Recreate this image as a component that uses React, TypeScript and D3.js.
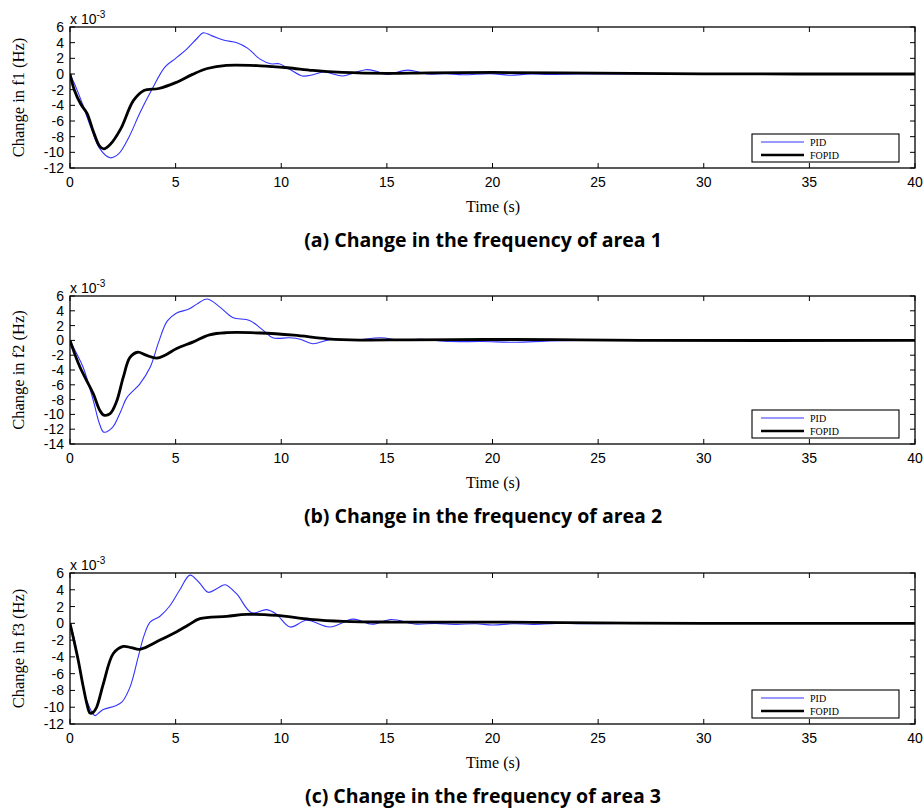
import React from "react";
import * as d3 from "d3";

type Pt = [number, number];

const xTicks = [0, 5, 10, 15, 20, 25, 30, 35, 40];
const legendLabels = ["PID", "FOPID"];

const pidArea1: Pt[] = [[0,0],[0.3,-1.8],[0.6,-3.9],[1.0,-6.9],[1.4,-9.5],[1.9,-10.7],[2.3,-10.2],[2.8,-8.0],[3.3,-5.0],[3.87,-2.0],[4.5,0.9],[5.0,2.0],[5.5,3.1],[6.0,4.5],[6.3,5.25],[6.7,4.9],[7.3,4.3],[7.9,4.0],[8.4,3.3],[9.0,1.9],[9.5,1.3],[9.9,1.3],[10.4,0.6],[11.0,-0.25],[11.5,-0.1],[12.0,0.25],[12.9,-0.25],[13.4,0.1],[14.0,0.55],[14.5,0.35],[15.0,-0.05],[16.0,0.5],[16.9,0.0],[17.8,0.05],[18.6,-0.1],[19.9,0.05],[20.8,-0.15],[21.8,0.0],[22.7,-0.05],[24,0.02],[25,0],[30,0],[40,0]];
const fopidArea1: Pt[] = [[0,0],[0.2,-2.0],[0.5,-3.8],[0.8,-5.0],[1.1,-7.3],[1.4,-9.2],[1.6,-9.55],[1.9,-9.0],[2.4,-7.0],[3.0,-3.4],[3.5,-2.1],[4.2,-1.85],[5.0,-1.1],[5.8,-0.05],[6.5,0.7],[7.4,1.1],[9.0,1.05],[10.3,0.8],[11.5,0.45],[12.9,0.2],[15,0.08],[17,0.15],[20,0.2],[25,0.1],[30,0.02],[40,0]];

const pidArea2: Pt[] = [[0,0],[0.3,-1.7],[0.63,-3.7],[1.1,-8.1],[1.4,-11.3],[1.6,-12.4],[2.0,-11.8],[2.4,-9.6],[2.7,-7.7],[3.3,-5.9],[3.8,-3.6],[4.2,-0.2],[4.6,2.6],[5.05,3.7],[5.6,4.2],[6.0,4.9],[6.5,5.6],[7.1,4.5],[7.7,3.1],[8.5,2.7],[9.15,1.35],[9.6,0.35],[10.4,0.35],[10.9,0.15],[11.5,-0.45],[12.3,0.1],[13.4,0.0],[14.7,0.35],[15.6,0.05],[16.6,0.15],[18,-0.15],[19.5,-0.15],[21.1,-0.25],[22.5,-0.1],[24,0],[40,0]];
const fopidArea2: Pt[] = [[0,0],[0.47,-3.6],[1.1,-7.2],[1.4,-9.4],[1.6,-10.1],[1.9,-9.9],[2.2,-8.3],[2.52,-5.0],[2.84,-2.3],[3.2,-1.6],[3.6,-2.0],[4.1,-2.4],[4.5,-2.0],[5.05,-1.1],[5.84,-0.2],[6.6,0.75],[7.4,1.04],[9.0,1.0],[10.6,0.7],[12.2,0.22],[13.7,0.05],[16,0.08],[19.6,0.12],[23,0.1],[27,0],[40,0]];

const pidArea3: Pt[] = [[0,0],[0.2,-1.8],[0.47,-5.6],[0.79,-9.2],[1.18,-11.0],[1.4,-10.6],[1.6,-10.25],[2.13,-9.85],[2.45,-9.4],[2.84,-7.6],[3.23,-4.0],[3.5,-1.5],[3.79,0.15],[4.26,0.85],[4.73,2.1],[5.2,4.0],[5.68,5.75],[6.1,4.9],[6.55,3.7],[7.0,4.2],[7.34,4.6],[7.89,3.5],[8.6,1.25],[9.31,1.63],[9.78,1.07],[10.41,-0.44],[11.2,0.36],[12.3,-0.44],[13.4,0.5],[14.3,-0.1],[15.2,0.45],[16.4,-0.1],[17.3,0.0],[18.3,-0.12],[19.2,-0.05],[20.0,-0.2],[21.0,-0.05],[21.9,-0.12],[23,0],[24.3,-0.05],[26,0],[40,0]];
const fopidArea3: Pt[] = [[0,0],[0.2,-2.2],[0.39,-4.4],[0.63,-7.6],[0.8,-9.6],[0.95,-10.7],[1.1,-10.6],[1.26,-10.0],[1.58,-7.2],[2.05,-3.6],[2.52,-2.75],[2.9,-2.9],[3.31,-3.1],[4.26,-2.0],[5.05,-1.0],[5.6,-0.2],[6.15,0.56],[7.42,0.83],[8.36,1.07],[9.78,0.95],[11.36,0.48],[12.94,0.24],[15.3,0.15],[20,0.15],[25,0.05],[30,0],[40,0]];

const yTicks1 = [6, 4, 2, 0, -2, -4, -6, -8, -10, -12];
const yTicks2 = [6, 4, 2, 0, -2, -4, -6, -8, -10, -12, -14];
const yTicks3 = [6, 4, 2, 0, -2, -4, -6, -8, -10, -12];

const yLabels = ["Change in f1 (Hz)", "Change in f2 (Hz)", "Change in f3 (Hz)"];
const captions = [
  "(a) Change in the frequency of area 1",
  "(b) Change in the frequency of area 2",
  "(c) Change in the frequency of area 3",
];

const X0 = 70, X1 = 915;
const panels = [
  { top: 27, bottom: 168, yMin: -12, yMax: 6, pid: pidArea1, fopid: fopidArea1, yTicks: yTicks1, ylab: yLabels[0], cap: captions[0] },
  { top: 296, bottom: 444, yMin: -14, yMax: 6, pid: pidArea2, fopid: fopidArea2, yTicks: yTicks2, ylab: yLabels[1], cap: captions[1] },
  { top: 573, bottom: 724, yMin: -12, yMax: 6, pid: pidArea3, fopid: fopidArea3, yTicks: yTicks3, ylab: yLabels[2], cap: captions[2] },
];

const sans = "'Liberation Sans', Arial, sans-serif";
const serif = "'Liberation Serif', 'Times New Roman', serif";
const capFont = "'Open Sans', sans-serif";

function Panel({ p }: { p: typeof panels[number] }) {
  const x = d3.scaleLinear().domain([0, 40]).range([X0, X1]);
  const y = d3.scaleLinear().domain([p.yMin, p.yMax]).range([p.bottom, p.top]);
  const line = d3.line<Pt>().x(d => x(d[0])).y(d => y(d[1])).curve(d3.curveCatmullRom.alpha(0.5));
  const tl = 5;
  const midY = (p.top + p.bottom) / 2;
  const lgTop = p.bottom - 34, lgLeft = 752, lgW = 147, lgH = 28;
  return (
    <g>
      <defs>
        <clipPath id={`clip${p.top}`}>
          <rect x={X0} y={p.top} width={X1 - X0} height={p.bottom - p.top} />
        </clipPath>
      </defs>
      <g clipPath={`url(#clip${p.top})`}>
        <path d={line(p.pid) || ""} fill="none" stroke="#3333ff" strokeWidth={1.1} />
        <path d={line(p.fopid) || ""} fill="none" stroke="#000" strokeWidth={2.8} strokeLinejoin="round" />
      </g>
      <rect x={X0} y={p.top} width={X1 - X0} height={p.bottom - p.top} fill="none" stroke="#000" strokeWidth={1.3} />
      {xTicks.map(t => (
        <g key={"x" + t}>
          <line x1={x(t)} x2={x(t)} y1={p.bottom} y2={p.bottom - tl} stroke="#000" strokeWidth={1} />
          <line x1={x(t)} x2={x(t)} y1={p.top} y2={p.top + tl} stroke="#000" strokeWidth={1} />
          <text x={x(t)} y={p.bottom + 19} textAnchor="middle" fontFamily={sans} fontSize={14}>{t}</text>
        </g>
      ))}
      {p.yTicks.map(t => (
        <g key={"y" + t}>
          <line x1={X0} x2={X0 + tl} y1={y(t)} y2={y(t)} stroke="#000" strokeWidth={1} />
          <line x1={X1} x2={X1 - tl} y1={y(t)} y2={y(t)} stroke="#000" strokeWidth={1} />
          <text x={64} y={y(t) + 5} textAnchor="end" fontFamily={sans} fontSize={14}>{t}</text>
        </g>
      ))}
      <text x={70} y={p.top - 3} fontFamily={sans} fontSize={14}>
        x 10<tspan dy={-6} fontSize={10}>-3</tspan>
      </text>
      <text transform={`translate(24,${midY}) rotate(-90)`} textAnchor="middle" fontFamily={serif} fontSize={16.5}>{p.ylab}</text>
      <text x={493} y={p.bottom + 44} textAnchor="middle" fontFamily={serif} fontSize={16}>Time (s)</text>
      <text x={483} y={p.bottom + 79} textAnchor="middle" fontFamily={capFont} fontWeight="bold" fontSize={19.5}>{p.cap}</text>
      <rect x={lgLeft} y={lgTop} width={lgW} height={lgH} fill="#fff" stroke="#000" strokeWidth={1.1} />
      <line x1={761} x2={804} y1={lgTop + 8} y2={lgTop + 8} stroke="#3333ff" strokeWidth={1.1} />
      <line x1={761} x2={804} y1={lgTop + 21} y2={lgTop + 21} stroke="#000" strokeWidth={2.5} />
      <text x={810} y={lgTop + 11.5} fontFamily={serif} fontSize={10}>{legendLabels[0]}</text>
      <text x={810} y={lgTop + 24.5} fontFamily={serif} fontSize={10}>{legendLabels[1]}</text>
    </g>
  );
}

export default function App() {
  return (
    <svg width={924} height={808} style={{ position: "absolute", left: 0, top: 0, background: "#fff" }}>
      <rect x={0} y={0} width={924} height={808} fill="#fff" />
      {panels.map((p, i) => <Panel key={i} p={p} />)}
    </svg>
  );
}
